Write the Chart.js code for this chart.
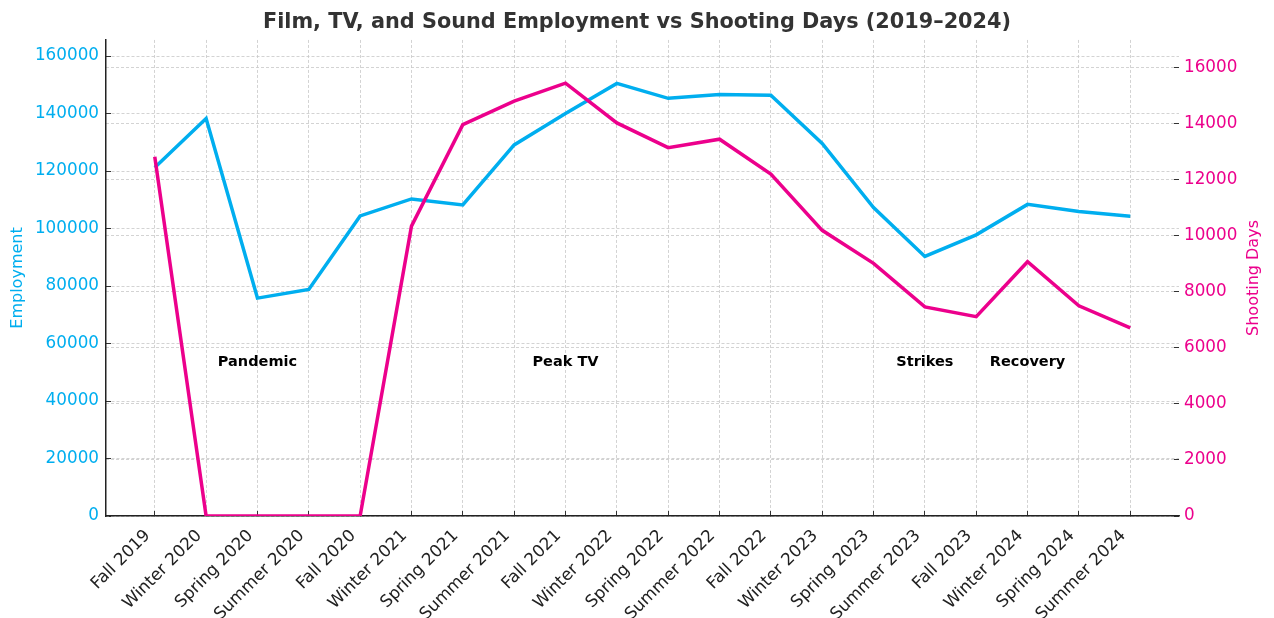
<!DOCTYPE html>
<html>
<head>
<meta charset="utf-8">
<script src="https://cdn.jsdelivr.net/npm/chart.js@4.4.1/dist/chart.umd.min.js"></script>
<style>
  html, body { margin: 0; padding: 0; background: #fff; }
  #wrap { width: 1274px; height: 618px; }
</style>
</head>
<body>
<div id="wrap"><canvas id="chart"></canvas></div>
<script>
const seasons = ['Fall 2019', 'Winter 2020', 'Spring 2020', 'Summer 2020', 'Fall 2020',
    'Winter 2021', 'Spring 2021', 'Summer 2021', 'Fall 2021', 'Winter 2022',
    'Spring 2022', 'Summer 2022', 'Fall 2022', 'Winter 2023', 'Spring 2023',
    'Summer 2023', 'Fall 2023', 'Winter 2024', 'Spring 2024', 'Summer 2024']
const employment = [121200, 138300, 75800, 78800, 104400, 110300, 108200, 129100, 140000, 150500,
    145300, 146600, 146400, 129600, 107300, 90300, 97800, 108400, 105900, 104300]
const shootingDays = [12810, 0, 0, 0, 0, 10340, 13960, 14800, 15440, 14020,
    13140, 13440, 12200, 10190, 9010, 7460, 7110, 9070, 7500, 6710]

// tick labels of the two value axes
const employmentTicks = [0, 20000, 40000, 60000, 80000, 100000, 120000, 140000, 160000]
const shootingTicks = [0, 2000, 4000, 6000, 8000, 10000, 12000, 14000, 16000]

// period notes, placed at a season and a level on the employment axis
const notes = ['Pandemic', 'Peak TV', 'Strikes', 'Recovery']
const noteSeason = [2, 8, 15, 17]
const noteLevel = 53500

const cyan = 'rgb(0, 174, 239)'
const magenta = 'rgb(236, 0, 140)'
const family = '"DejaVu Sans", sans-serif'

const noteText = {
    id: 'noteText',
    afterDatasetsDraw(chart) {
        const { ctx, scales: { x, y } } = chart
        ctx.save()
        ctx.font = 'bold 14.5px ' + family
        ctx.fillStyle = '#000'
        ctx.textAlign = 'center'
        ctx.textBaseline = 'middle'
        notes.forEach((t, i) => {
            ctx.fillText(t, x.getPixelForValue(noteSeason[i]), y.getPixelForValue(noteLevel))
        })
        ctx.restore()
    }
}

// right axis title reads bottom-to-top like the left one
const rightTitle = {
    id: 'rightTitle',
    afterDraw(chart) {
        const s = chart.scales.y2
        const ctx = chart.ctx
        ctx.save()
        ctx.translate(s.right - 20, (s.top + s.bottom) / 2)
        ctx.rotate(-Math.PI / 2)
        ctx.font = '16px ' + family
        ctx.fillStyle = magenta
        ctx.textAlign = 'center'
        ctx.textBaseline = 'middle'
        ctx.fillText('Shooting Days', 0, 0)
        ctx.restore()
    }
}

const gridStyle = { color: '#c8c8c8', lineWidth: 0.8, tickLength: -5, tickColor: '#333', tickWidth: 1 }

const config = {
    type: 'line',
    data: {
        datasets: [{
            label: 'Employment',
            data: employment.map((v, i) => ({ x: i, y: v })),
            borderColor: cyan,
            borderWidth: 3.5,
            pointRadius: 0,
            tension: 0,
            yAxisID: 'y',
            order: 2
        }, {
            label: 'Shooting Days',
            data: shootingDays.map((v, i) => ({ x: i, y: v })),
            borderColor: magenta,
            borderWidth: 3.5,
            pointRadius: 0,
            tension: 0,
            yAxisID: 'y2',
            order: 1
        }]
    },
    options: {
        responsive: true,
        maintainAspectRatio: false,
        animation: false,
        layout: { padding: 0 },
        plugins: {
            legend: { display: false },
            tooltip: { enabled: false },
            title: {
                display: true,
                text: 'Film, TV, and Sound Employment vs Shooting Days (2019–2024)',
                color: '#333',
                font: { family: family, size: 20.8, weight: 'bold' },
                padding: { top: 10, bottom: 5 }
            }
        },
        scales: {
            x: {
                type: 'linear',
                min: -0.95,
                max: 19.95,
                afterBuildTicks: s => { s.ticks = seasons.map((_, i) => ({ value: i })) },
                afterFit: s => { s.height = 102 },
                ticks: {
                    callback: v => seasons[v],
                    autoSkip: false,
                    maxRotation: 45,
                    minRotation: 45,
                    color: '#222',
                    font: { family: family, size: 16.8 },
                    padding: 15,
                    labelOffset: -7
                },
                grid: gridStyle,
                border: { color: '#222', width: 1.5, dash: [3, 2] }
            },
            y: {
                position: 'left',
                min: 0,
                max: 165600,
                afterBuildTicks: s => { s.ticks = employmentTicks.map(v => ({ value: v })) },
                afterFit: s => { s.width = 106 },
                ticks: {
                    callback: v => String(v),
                    color: cyan,
                    font: { family: family, size: 16.8 },
                    padding: 12
                },
                title: {
                    display: true,
                    text: 'Employment',
                    color: cyan,
                    font: { family: family, size: 16 },
                    padding: { top: 8, bottom: 0 }
                },
                grid: gridStyle,
                border: { color: '#222', width: 1.5, dash: [3, 2] }
            },
            y2: {
                position: 'right',
                min: 0,
                max: 16980,
                afterBuildTicks: s => { s.ticks = shootingTicks.map(v => ({ value: v })) },
                afterFit: s => { s.width = 95 },
                ticks: {
                    callback: v => String(v),
                    color: magenta,
                    font: { family: family, size: 16.8 },
                    padding: 10
                },
                grid: gridStyle,
                border: { display: false, dash: [3, 2] }
            }
        }
    },
    plugins: [noteText, rightTitle]
}

new Chart(document.getElementById('chart'), config)
</script>
</body>
</html>
